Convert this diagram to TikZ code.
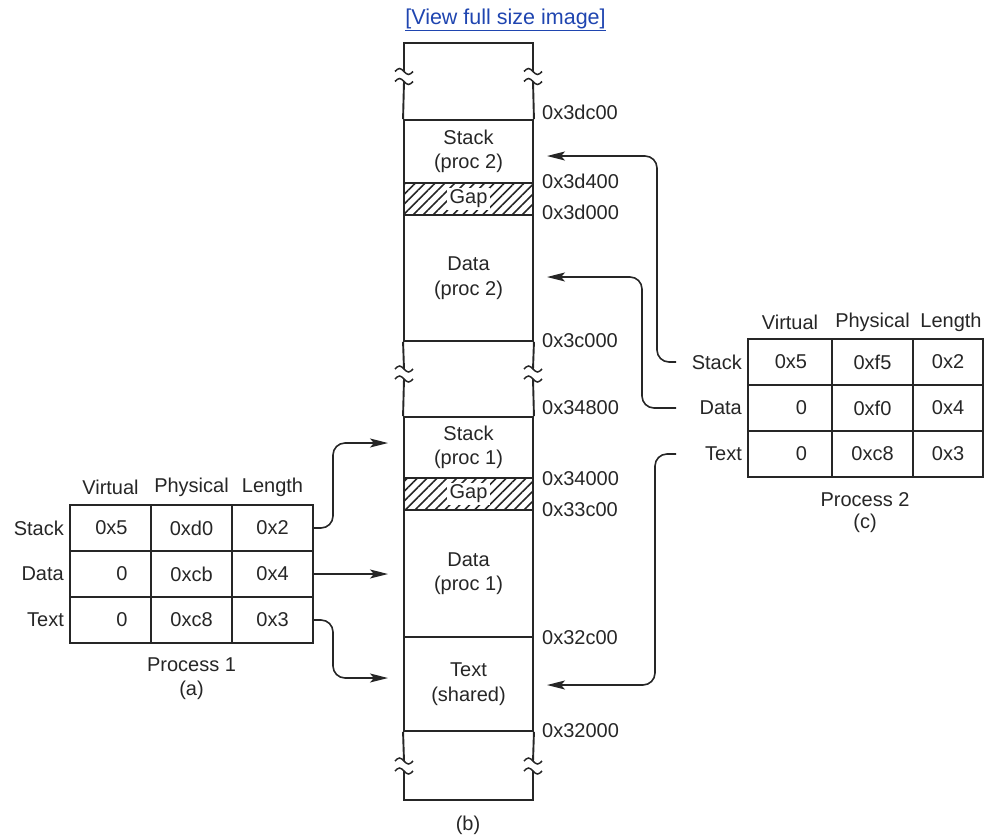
\documentclass[tikz,border=0pt]{standalone}
\usepackage[dvipsnames,svgnames,x11names]{xcolor}
\usepackage{tikz}
\usepackage{fontspec}
\setmainfont{Liberation Sans}
\usetikzlibrary{arrows.meta}
\usetikzlibrary{patterns.meta}
\definecolor{linkblue}{HTML}{1F45B0}
\colorlet{ink}{black!85}
\tikzstyle{lbl} = [inner sep=0pt, text=ink]
\tikzstyle{cell} = [rectangle, minimum width=81pt, minimum height=46pt, draw=ink, line width=1.7pt, text=ink, inner sep=0pt]
\tikzstyle{vcell} = [cell, text width=34pt, align=right]
\tikzstyle{seg} = [rectangle, minimum width=129pt, draw=ink, line width=1.9pt, align=center, text=ink]
\tikzstyle{gapseg} = [seg, pattern={Lines[angle=45, distance=7pt, line width=1.6pt]}, pattern color=ink]
\tikzstyle{gaplbl} = [lbl, fill=white, inner xsep=3pt, inner ysep=2pt]
\tikzstyle{wall} = [draw=ink, line width=1.9pt]
\tikzstyle{link} = [draw=ink, line width=1.6pt, rounded corners=12pt, -{Stealth[length=18pt, width=9pt, inset=4pt]}]
% break mark on a wall of the memory map
\newcommand{\membreak}[2]{%
  \foreach \dy in {-5,5}{%
    \draw[wall, line width=1.5pt] (#1-9,#2+\dy) sin (#1-4.5,#2+\dy-3) cos (#1,#2+\dy) sin (#1+4.5,#2+\dy+3) cos (#1+9,#2+\dy);}}

\begin{document}
\begin{tikzpicture}[x=1pt, y=-1pt, font=\fontsize{20pt}{24.5pt}\selectfont]
\useasboundingbox (0,0) rectangle (984,836);

% Link above the map
\node[lbl, text=linkblue, font=\fontsize{21.5pt}{24pt}\selectfont] (link) at (505.5,20) {\underline{[View full size image]}};

% (b) Physical memory segments, top to bottom
\node[seg, minimum height=63pt] (stk2) at (468.5,151.5) {Stack\\(proc 2)};
\node[gapseg, minimum height=32pt] (gap2) at (468.5,199) {};
\node[gaplbl] (gap2t) at (gap2) {Gap};
\node[seg, minimum height=126pt] (dat2) at (468.5,278) {Data\\(proc 2)};
\node[seg, minimum height=61pt] (stk1) at (468.5,447.5) {Stack\\(proc 1)};
\node[gapseg, minimum height=32pt] (gap1) at (468.5,494) {};
\node[gaplbl] (gap1t) at (gap1) {Gap};
\node[seg, minimum height=127pt] (dat1) at (468.5,573.5) {Data\\(proc 1)};
\node[seg, minimum height=94pt] (txt) at (468.5,684) {Text\\(shared)};
% open parts of the map, with breaks
\draw[wall] (404,71.5) -- (404,43) -- (533,43) -- (533,71.5);
\draw[wall] (404,81.5) -- (stk2.north west) (533,81.5) -- (stk2.north east);
\draw[wall] (dat2.south west) -- (404,369) (404,379) -- (stk1.north west);
\draw[wall] (dat2.south east) -- (533,369) (533,379) -- (stk1.north east);
\draw[wall] (txt.south west) -- (404,761) (404,771) -- (404,800) -- (533,800) -- (533,771) (533,761) -- (txt.south east);
\membreak{404}{76.5}
\membreak{533}{76.5}
\membreak{404}{374}
\membreak{533}{374}
\membreak{404}{766}
\membreak{533}{766}
% addresses
\node[lbl, anchor=west] (ad1) at (542,112) {0x3dc00};
\node[lbl, anchor=west] (ad2) at (542,181) {0x3d400};
\node[lbl, anchor=west] (ad3) at (542,212) {0x3d000};
\node[lbl, anchor=west] (ad4) at (542,341) {0x3c000};
\node[lbl, anchor=west] (ad5) at (542,408) {0x34800};
\node[lbl, anchor=west] (ad6) at (542,479) {0x34000};
\node[lbl, anchor=west] (ad7) at (542,510) {0x33c00};
\node[lbl, anchor=west] (ad8) at (542,638) {0x32c00};
\node[lbl, anchor=west] (ad9) at (542,731) {0x32000};
\node[lbl] (capb) at (468,825) {(b)};

% (a) Segment table of process 1
% Column headers
\node[lbl] (a01) at (110.5,487) {Virtual};
\node[lbl] (a02) at (191.5,487) {Physical};
\node[lbl] (a03) at (272.5,487) {Length};
% Row headers
\node[lbl, anchor=east] (a10) at (64,528) {Stack};
\node[lbl, anchor=east] (a20) at (64,574) {Data};
\node[lbl, anchor=east] (a30) at (64,620) {Text};
% Cells
\node[vcell] (a11) at (110.5,528) {0x5};
\node[cell] (a12) at (191.5,528) {0xd0};
\node[cell] (a13) at (272.5,528) {0x2};
\node[vcell] (a21) at (110.5,574) {0};
\node[cell] (a22) at (191.5,574) {0xcb};
\node[cell] (a23) at (272.5,574) {0x4};
\node[vcell] (a31) at (110.5,620) {0};
\node[cell] (a32) at (191.5,620) {0xc8};
\node[cell] (a33) at (272.5,620) {0x3};
\node[lbl] (a40) at (191.5,665) {Process 1};
\node[lbl] (a50) at (191.5,690) {(a)};

% (c) Segment table of process 2
% Column headers
\node[lbl] (c01) at (790,322) {Virtual};
\node[lbl] (c02) at (872.5,322) {Physical};
\node[lbl] (c03) at (951,322) {Length};
% Row headers
\node[lbl, anchor=east] (c10) at (742,362) {Stack};
\node[lbl, anchor=east] (c20) at (742,408) {Data};
\node[lbl, anchor=east] (c30) at (742,454) {Text};
% Cells
\node[vcell, minimum width=84pt] (c11) at (790,362) {0x5};
\node[cell] (c12) at (872.5,362) {0xf5};
\node[cell, minimum width=70pt] (c13) at (948,362) {0x2};
\node[vcell, minimum width=84pt] (c21) at (790,408) {0};
\node[cell] (c22) at (872.5,408) {0xf0};
\node[cell, minimum width=70pt] (c23) at (948,408) {0x4};
\node[vcell, minimum width=84pt] (c31) at (790,454) {0};
\node[cell] (c32) at (872.5,454) {0xc8};
\node[cell, minimum width=70pt] (c33) at (948,454) {0x3};
\node[lbl] (c40) at (865,500) {Process 2};
\node[lbl] (c50) at (865,523) {(c)};

% MAPPINGS
% process 1
\coordinate (in-stk1) at (388,443);
\coordinate (in-dat1) at (388,574);
\coordinate (in-txt1) at (388,678);
\draw[link] (a13.east) -| ([xshift=-55pt]in-stk1) -- (in-stk1);
\draw[link] (a23.east) -- (in-dat1);
\draw[link] (a33.east) -| ([xshift=-55pt]in-txt1) -- (in-txt1);
% process 2
\coordinate (out-stk2) at (676,362);
\coordinate (out-dat2) at (676,408);
\coordinate (out-txt2) at (676,454);
\coordinate (in-stk2) at (547,156);
\coordinate (in-dat2) at (547,277);
\coordinate (in-txt2) at (547,685);
\draw[link] (out-stk2) -| ([xshift=110pt]in-stk2) -- (in-stk2);
\draw[link] (out-dat2) -| ([xshift=95pt]in-dat2) -- (in-dat2);
\draw[link] (out-txt2) -| ([xshift=108pt]in-txt2) -- (in-txt2);
\end{tikzpicture}
\end{document}
